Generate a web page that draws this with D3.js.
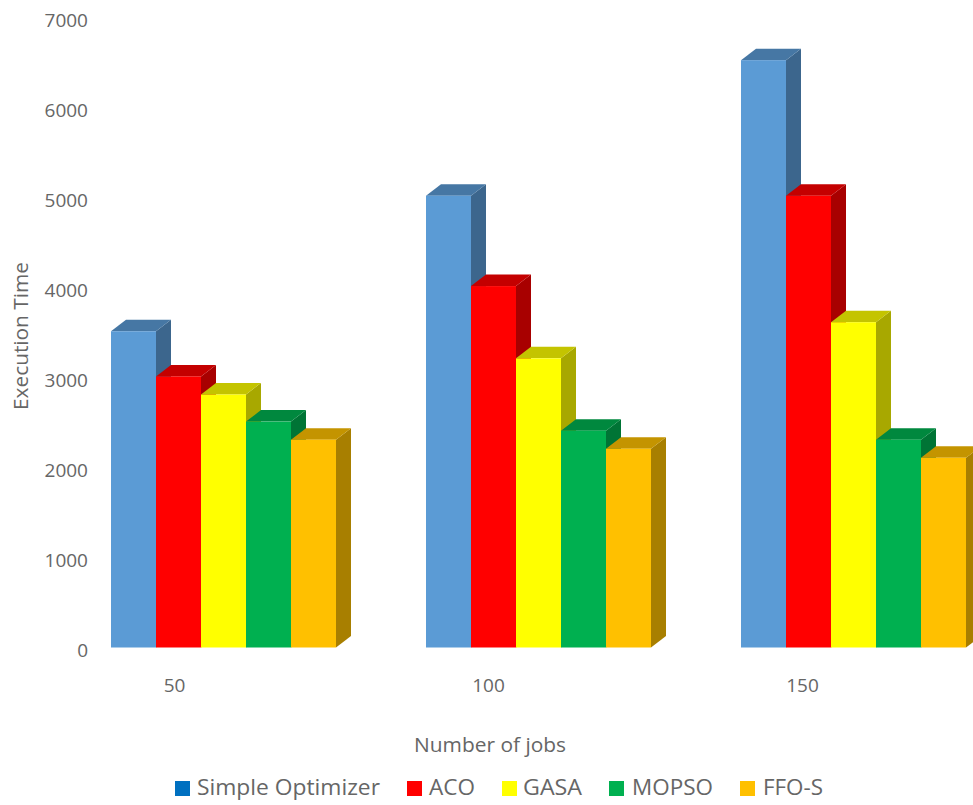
<!DOCTYPE html>
<html>
<head>
<meta charset="utf-8">
<script src="https://cdn.jsdelivr.net/npm/d3@7/dist/d3.min.js"></script>
<style>
  html, body { margin: 0; padding: 0; background: #fff; }
  svg { display: block; }
  text { font-family: "Open Sans", sans-serif; fill: #666666; }
</style>
</head>
<body>
<svg id="chart" width="973" height="805"></svg>
<script>
const jobs = ["50", "100", "150"];
const seriesNames = ["Simple Optimizer", "ACO", "GASA", "MOPSO", "FFO-S"];
const simpleOptimizer = [3500, 5000, 6500];
const aco = [3000, 4000, 5000];
const gasa = [2800, 3200, 3600];
const mopso = [2500, 2400, 2300];
const ffoS = [2300, 2200, 2100];
const yTicks = [0, 1000, 2000, 3000, 4000, 5000, 6000, 7000];

const seriesValues = [simpleOptimizer, aco, gasa, mopso, ffoS];
const barColors = ["#5b9bd5", "#ff0000", "#ffff00", "#00b050", "#ffc000"];
const legendColors = ["#0070c0", "#ff0000", "#ffff00", "#00b050", "#ffc000"];

const svg = d3.select("#chart");

// Oblique extrusion of each column
const depthX = 15, depthY = 11.5;

const xGroup = d3.scaleBand().domain(jobs).range([111, 111 + 3 * 315]);
const xBar = d3.scaleBand().domain(seriesNames).range([0, 225]);
const yBar = d3.scaleLinear().domain([0, 7000]).range([647.5, 15]);
const yAxisScale = d3.scaleLinear().domain([0, 7000]).range([650, 20]);
const xLabels = d3.scalePoint().domain(jobs).range([174, 802]);

// Darken a colour by a plain multiplier, as the lit faces of a 3-D column do
const shade = (color, k) => {
  const c = d3.rgb(color);
  return d3.rgb(c.r * k, c.g * k, c.b * k);
};

// Columns are drawn left to right so each front face covers its neighbour's side
const bars = [];
jobs.forEach((job, j) => {
  seriesNames.forEach((name, s) => {
    bars.push({ job, name, s, value: seriesValues[s][j] });
  });
});

const barG = svg.append("g").selectAll("g").data(bars).join("g");

const x0 = d => xGroup(d.job) + xBar(d.name);
const x1 = d => x0(d) + xBar.bandwidth();

// Side face
barG.append("path")
  .attr("fill", d => shade(barColors[d.s], 0.66))
  .attr("d", d => d3.line()([
    [x1(d), yBar(d.value)],
    [x1(d) + depthX, yBar(d.value) - depthY],
    [x1(d) + depthX, yBar(0) - depthY],
    [x1(d), yBar(0)]
  ]) + "Z");

// Top face
barG.append("path")
  .attr("fill", d => shade(barColors[d.s], 0.77))
  .attr("d", d => d3.line()([
    [x0(d), yBar(d.value)],
    [x0(d) + depthX, yBar(d.value) - depthY],
    [x1(d) + depthX, yBar(d.value) - depthY],
    [x1(d), yBar(d.value)]
  ]) + "Z");

// Front face
barG.append("rect")
  .attr("x", x0)
  .attr("y", d => yBar(d.value))
  .attr("width", xBar.bandwidth())
  .attr("height", d => yBar(0) - yBar(d.value))
  .attr("fill", d => barColors[d.s]);

// Value axis: labels only
const yAxis = svg.append("g")
  .attr("transform", "translate(88,0)")
  .call(d3.axisLeft(yAxisScale).tickValues(yTicks).tickSize(0).tickPadding(0).tickFormat(d3.format("d")));
yAxis.select(".domain").remove();
yAxis.selectAll("text").attr("font-size", 19).style("font-family", '"Open Sans", sans-serif').style("fill", "#666666");

// Category axis: labels only, centred left of each column group
const xAxis = svg.append("g")
  .attr("transform", "translate(0,685)")
  .call(d3.axisBottom(xLabels).tickSize(0).tickPadding(0));
xAxis.select(".domain").remove();
xAxis.selectAll("text").attr("font-size", 19).attr("dy", "0.35em").attr("y", 0)
  .style("font-family", '"Open Sans", sans-serif').style("fill", "#666666");

// Axis titles
svg.append("text")
  .attr("x", 490).attr("y", 752)
  .attr("text-anchor", "middle")
  .attr("font-size", 20)
  .attr("textLength", 152)
  .attr("lengthAdjust", "spacingAndGlyphs")
  .text("Number of jobs");

svg.append("text")
  .attr("transform", "translate(28,336) rotate(-90)")
  .attr("text-anchor", "middle")
  .attr("font-size", 20)
  .attr("textLength", 148)
  .attr("lengthAdjust", "spacingAndGlyphs")
  .text("Execution Time");

// Legend
const swatchLefts = [175, 407, 502, 609, 740];
const labelLefts = [197, 429, 523, 632, 763];
const labelWidths = [183, 46, 59, 81, 60];

const legend = svg.append("g").selectAll("g").data(seriesNames).join("g");

legend.append("rect")
  .attr("x", (d, i) => swatchLefts[i])
  .attr("y", 781).attr("width", 15).attr("height", 15)
  .attr("fill", (d, i) => legendColors[i]);

legend.append("text")
  .attr("x", (d, i) => labelLefts[i])
  .attr("y", 795)
  .attr("font-size", 21)
  .attr("textLength", (d, i) => labelWidths[i])
  .attr("lengthAdjust", "spacingAndGlyphs")
  .text(d => d);
</script>
</body>
</html>
